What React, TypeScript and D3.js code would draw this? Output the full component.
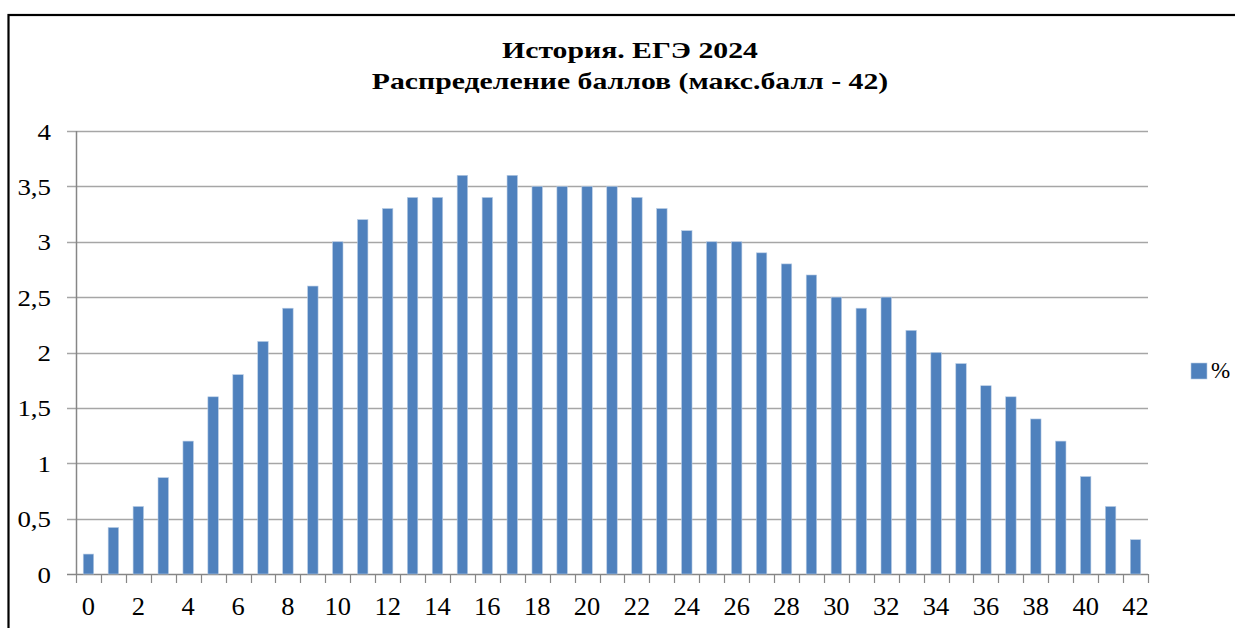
import React from "react";
import * as d3 from "d3";

const categories: number[] = Array.from({ length: 43 }, (_, i) => i);
const percentValues: number[] = [
  0.18, 0.42, 0.61, 0.87, 1.2, 1.6, 1.8, 2.1, 2.4, 2.6,
  3.0, 3.2, 3.3, 3.4, 3.4, 3.6, 3.4, 3.6, 3.5, 3.5,
  3.5, 3.5, 3.4, 3.3, 3.1, 3.0, 3.0, 2.9, 2.8, 2.7,
  2.5, 2.4, 2.5, 2.2, 2.0, 1.9, 1.7, 1.6, 1.4, 1.2,
  0.88, 0.61, 0.31,
];
const yTicks: number[] = [0, 0.5, 1, 1.5, 2, 2.5, 3, 3.5, 4];
const titleLines: string[] = ["История. ЕГЭ 2024", "Распределение баллов (макс.балл - 42)"];
const seriesName = "%";

const W = 1235;
const H = 628;
const left = 76;
const right = 1148;
const top = 131;
const bottom = 574;
const FONT = '"Liberation Serif"';

export default function App() {
  const x = d3
    .scaleBand<number>()
    .domain(categories)
    .range([left, right])
    .paddingInner(0)
    .paddingOuter(0);
  const y = d3.scaleLinear().domain([0, 4]).range([bottom, top]);
  const bw = x.bandwidth();
  const barW = bw * 0.42;
  const fmt = (v: number) => String(v).replace(".", ",");

  return (
    <svg
      width={W}
      height={H}
      style={{ position: "absolute", left: 0, top: 0, background: "#fff" }}
    >
      <rect x={0} y={0} width={W} height={H} fill="#fff" />
      <rect x={8.5} y={15} width={1400} height={800} fill="none" stroke="#000" strokeWidth={2.2} />
      {titleLines.map((t, i) => (
        <text
          key={i}
          transform={`translate(630,${58 + i * 31}) scale(1.24,1)`}
          textAnchor="middle"
          fontSize={24}
          fontWeight="bold"
          fill="#000"
          style={{ fontFamily: FONT }}
        >
          {t}
        </text>
      ))}
      {yTicks.map((t) => (
        <g key={t}>
          <line
            x1={left - 9}
            x2={right}
            y1={Math.round(y(t)) + 0.5}
            y2={Math.round(y(t)) + 0.5}
            stroke={t === 0 ? "#868686" : "#a6a6a6"}
            strokeWidth={1.5}
          />
          <text
            transform={`translate(51,${y(t) + 8.5}) scale(1.12,1)`}
            textAnchor="end"
            fontSize={24}
            fill="#000"
            style={{ fontFamily: FONT }}
          >
            {fmt(t)}
          </text>
        </g>
      ))}
      <line x1={left + 0.5} x2={left + 0.5} y1={top} y2={bottom} stroke="#868686" strokeWidth={1.5} />
      {categories.map((c) => {
        const x0 = x(c) as number;
        const v = percentValues[c];
        return (
          <rect
            key={c}
            x={x0 + (bw - barW) / 2}
            y={y(v)}
            width={barW}
            height={bottom - y(v)}
            fill="#4f81bd"
            stroke="#b9cde5"
            strokeWidth={0.6}
          />
        );
      })}
      {d3.range(categories.length + 1).map((i) => {
        const xx = Math.round(left + i * bw) + 0.5;
        return <line key={i} x1={xx} x2={xx} y1={bottom} y2={bottom + 9} stroke="#868686" strokeWidth={1.2} />;
      })}
      {categories
        .filter((c) => c % 2 === 0)
        .map((c) => (
          <text
            key={c}
            transform={`translate(${(x(c) as number) + bw / 2},615) scale(1.06,1)`}
            textAnchor="middle"
            fontSize={25}
            fill="#000"
            style={{ fontFamily: FONT }}
          >
            {c}
          </text>
        ))}
      <rect x={1191} y={363} width={16} height={16} fill="#4f81bd" stroke="#b9cde5" strokeWidth={0.6} />
      <text x={1211} y={378} fontSize={23} fill="#000" style={{ fontFamily: FONT }}>
        {seriesName}
      </text>
    </svg>
  );
}
